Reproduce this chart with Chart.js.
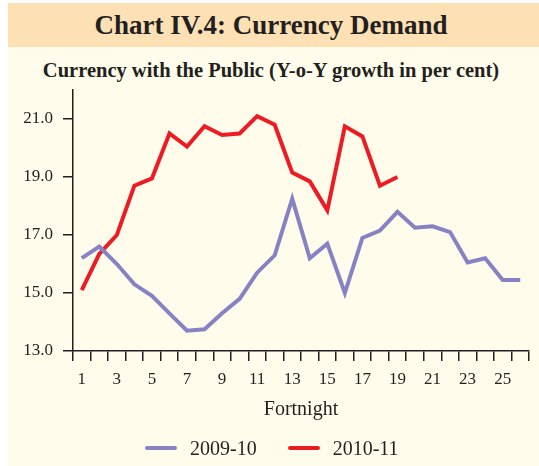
<!DOCTYPE html>
<html>
<head>
<meta charset="utf-8">
<title>Chart IV.4: Currency Demand</title>
<script src="https://cdn.jsdelivr.net/npm/chart.js@4.4.1/dist/chart.umd.min.js"></script>
<style>
  html, body { margin: 0; padding: 0; background: #fff; }
  #page { position: relative; width: 539px; height: 466px; overflow: hidden; font-family: "Liberation Serif", "DejaVu Serif", serif; color: #231f20; }
  #band { position: absolute; left: 8px; top: 3px; width: 531px; height: 44px; background: #fde0b4; }
  #band h1 { margin: 0; padding-right: 5px; font-size: 27px; font-weight: bold; line-height: 44px; text-align: center; }
  #panel { position: absolute; left: 8px; top: 47px; width: 531px; height: 419px; background: #fffceb; }
  #subtitle { position: absolute; left: 8px; top: 58px; width: 526px; font-size: 20.5px; font-weight: bold; line-height: 24px; text-align: center; }
  #wrap { position: absolute; left: 8px; top: 84px; width: 531px; height: 382px; }
  #legend { position: absolute; left: 145px; top: 436px; height: 24px; display: flex; align-items: center; font-size: 20px; }
  #legend .swatch { display: inline-block; height: 4px; border-radius: 2px; }
</style>
</head>
<body>
<div id="page">
  <div id="band"><h1>Chart IV.4: Currency Demand</h1></div>
  <div id="panel"></div>
  <div id="subtitle">Currency with the Public (Y-o-Y growth in per cent)</div>
  <div id="wrap"><canvas id="currency-chart"></canvas></div>
  <div id="legend"></div>
</div>
<script>
// ----------------------------
// Data
// ----------------------------
const fortnights = ['1', '2', '3', '4', '5', '6', '7', '8', '9', '10', '11', '12', '13',
  '14', '15', '16', '17', '18', '19', '20', '21', '22', '23', '24', '25', '26'];
const yTicks = [13, 15, 17, 19, 21];
const seriesNames = ['2009-10', '2010-11'];
const growth2009 = [16.2, 16.6, 16.0, 15.3, 14.9, 14.3, 13.7, 13.75, 14.3, 14.8, 15.7, 16.3, 18.25,
  16.2, 16.7, 15.0, 16.9, 17.15, 17.8, 17.25, 17.3, 17.1, 16.05, 16.2, 15.45, 15.45];
const growth2010 = [15.1, 16.35, 17.0, 18.7, 18.95, 20.5, 20.05, 20.75, 20.45, 20.5, 21.1, 20.8, 19.15,
  18.85, 17.85, 20.75, 20.4, 18.7, 19.0];

// ----------------------------
// Styling
// ----------------------------
const INK = '#231f20';
const BLUE = '#8682c4';
const RED = '#ed1c24';
const FONT = '"Liberation Serif", "DejaVu Serif", serif';

const datasets = [
  { label: seriesNames[0], data: growth2009, borderColor: BLUE, backgroundColor: BLUE },
  { label: seriesNames[1], data: growth2010, borderColor: RED, backgroundColor: RED }
].map(ds => Object.assign(ds, { borderWidth: 4, pointRadius: 0, tension: 0, fill: false }));

// keep the plot area fixed: no extra room for edge tick labels
const noLabelPadding = scale => {
  scale.paddingTop = 0;
  scale.paddingBottom = 0;
  scale.paddingLeft = 0;
  scale.paddingRight = 0;
};

new Chart(document.getElementById('currency-chart'), {
  type: 'line',
  data: { labels: fortnights, datasets },
  options: {
    responsive: true,
    maintainAspectRatio: false,
    animation: false,
    layout: { padding: { top: 6, right: 10, bottom: 44, left: 0 } },
    plugins: {
      legend: { display: false },
      tooltip: { enabled: false }
    },
    scales: {
      x: {
        type: 'category',
        offset: true,
        grid: { offset: true, drawOnChartArea: false, drawTicks: true, tickLength: 10, color: INK, lineWidth: 1.5 },
        border: { display: true, color: INK, width: 1.5 },
        ticks: {
          autoSkip: false,
          maxRotation: 0,
          padding: 8,
          color: INK,
          font: { family: FONT, size: 17 },
          callback(value, index) { return index % 2 === 0 ? this.getLabelForValue(value) : ''; }
        },
        title: { display: true, text: 'Fortnight', color: INK, font: { family: FONT, size: 20 }, padding: { top: 4, bottom: 0 } },
        afterFit(scale) { scale.height = 71; noLabelPadding(scale); }
      },
      y: {
        min: 13,
        max: 22,
        afterBuildTicks(scale) { scale.ticks = yTicks.map(v => ({ value: v })); },
        grid: { drawOnChartArea: false, drawTicks: true, tickLength: 10, color: INK, lineWidth: 1.5 },
        border: { display: true, color: INK, width: 1.5 },
        ticks: {
          padding: 10,
          color: INK,
          font: { family: FONT, size: 17 },
          callback: v => Number(v).toFixed(1)
        },
        afterFit(scale) { scale.width = 65; noLabelPadding(scale); }
      }
    }
  }
});

// HTML legend
const legend = document.getElementById('legend');
datasets.forEach((ds, i) => {
  const sw = document.createElement('span');
  sw.className = 'swatch';
  sw.style.width = '32px';
  sw.style.background = ds.borderColor;
  sw.style.marginRight = '13px';
  const txt = document.createElement('span');
  txt.textContent = ds.label;
  if (i === 0) txt.style.marginRight = '31px';
  legend.appendChild(sw);
  legend.appendChild(txt);
});
</script>
</body>
</html>
